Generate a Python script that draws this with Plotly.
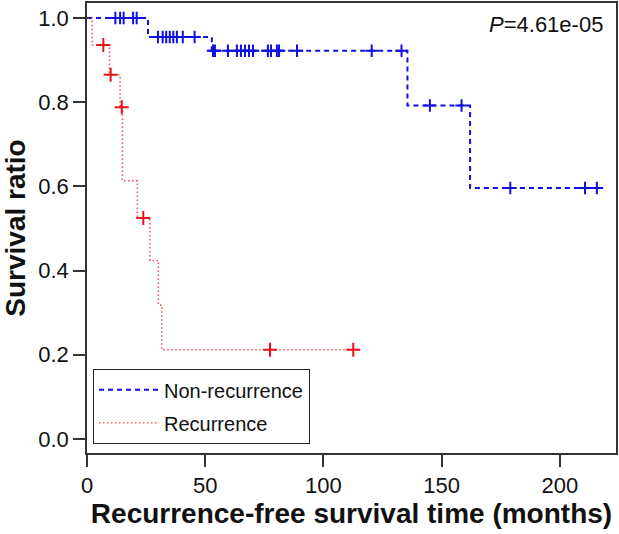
import plotly.graph_objects as go

# ---- data ----
# Non-recurrence group: step times (months) and survival levels
nonrec_times = [0, 25.8, 52.8, 135.5, 162.0]
nonrec_surv = [1.0, 0.955, 0.922, 0.792, 0.596]
nonrec_end = 215.6
nonrec_cens_t = [12, 14, 15.5, 19.5, 21,
                 30, 32, 33.5, 35, 36.5, 38, 40.5, 45.5,
                 53.3, 54.1, 59.6, 63.4, 65.1, 66.8, 68.5, 70.2, 76.5, 77.8, 80.3, 81.2, 88.8, 120.4, 133,
                 145, 158.4,
                 179, 210.6, 215.6]
nonrec_cens_s = [1.0] * 5 + [0.955] * 8 + [0.922] * 15 + [0.792] * 2 + [0.596] * 3

# Recurrence group
rec_times = [0, 2.2, 9.5, 14.0, 15.0, 21.3, 26.6, 30.2, 31.6]
rec_surv = [1.0, 0.936, 0.865, 0.788, 0.613, 0.525, 0.424, 0.318, 0.212]
rec_end = 112.6
rec_cens_t = [6.9, 10.0, 14.7, 23.8, 77.4, 112.6]
rec_cens_s = [0.936, 0.865, 0.788, 0.525, 0.212, 0.212]

x_ticks = [0, 50, 100, 150, 200]
y_ticks = [0.0, 0.2, 0.4, 0.6, 0.8, 1.0]
p_text = "<i>P</i>=4.61e-05"

BLUE = "#1010e0"
RED = "#e8101a"
FONT = "Liberation Sans, Arial, sans-serif"

fig = go.Figure()
fig.add_trace(go.Scatter(
    x=nonrec_times + [nonrec_end], y=nonrec_surv + [nonrec_surv[-1]],
    mode="lines", line=dict(shape="hv", color=BLUE, width=2, dash="5px,4px"),
    name="Non-recurrence", legendgroup="a"))
fig.add_trace(go.Scatter(
    x=rec_times + [rec_end], y=rec_surv + [rec_surv[-1]],
    mode="lines", line=dict(shape="hv", color="rgba(232,30,40,0.75)", width=1.6, dash="1.5px,2.5px"),
    name="Recurrence", legendgroup="b"))
fig.add_trace(go.Scatter(
    x=nonrec_cens_t, y=nonrec_cens_s, mode="markers", showlegend=False,
    marker=dict(symbol="cross-thin", size=9, line=dict(color=BLUE, width=2))))
fig.add_trace(go.Scatter(
    x=rec_cens_t, y=rec_cens_s, mode="markers", showlegend=False,
    marker=dict(symbol="cross-thin", size=10, line=dict(color=RED, width=2))))

fig.update_layout(
    width=619, height=534,
    margin=dict(l=87, r=3, t=3, b=81),
    paper_bgcolor="white", plot_bgcolor="white",
    font=dict(family=FONT, size=22, color="#111"),
    showlegend=True,
    legend=dict(x=0.011, y=0.02, xanchor="left", yanchor="bottom",
                bordercolor="#222", borderwidth=1.2, bgcolor="white",
                font=dict(size=20), tracegroupgap=4, itemwidth=60),
    xaxis=dict(range=[0, 223.7], tickvals=x_ticks, ticktext=[str(v) for v in x_ticks],
               showline=True, mirror=True, linecolor="#333", linewidth=1.5,
               ticks="outside", ticklen=12, tickwidth=1.5, tickcolor="#333",
               showgrid=False, zeroline=False, automargin=False,
               tickfont=dict(size=22),
               title=dict(text="<b>Recurrence-free survival time (months)</b>",
                          font=dict(size=28), standoff=6)),
    yaxis=dict(range=[-0.0333, 1.0356], tickvals=y_ticks,
               ticktext=["%.1f" % v for v in y_ticks],
               showline=True, mirror=True, linecolor="#333", linewidth=1.5,
               ticks="outside", ticklen=12, tickwidth=1.5, tickcolor="#333",
               showgrid=False, zeroline=False, automargin=False,
               tickfont=dict(size=22),
               title=dict(text="<b>Survival ratio</b>", font=dict(size=28), standoff=8)),
    annotations=[dict(text=p_text, xref="paper", yref="paper", x=0.979, y=0.953,
                      xanchor="right", yanchor="middle", showarrow=False,
                      font=dict(size=22))],
)

fig.write_html("out.html", config={"displayModeBar": False},
               post_script="document.body.style.margin='0';")
